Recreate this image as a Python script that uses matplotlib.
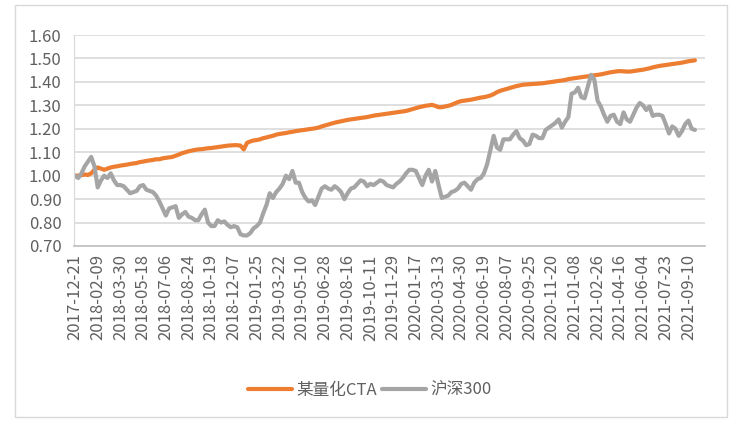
import matplotlib
matplotlib.use('Agg')
import matplotlib.pyplot as plt
from matplotlib.patches import Rectangle

plt.rcParams['font.family'] = ['Noto Sans CJK SC', 'DejaVu Sans']

# tick labels shown on the x axis (every 7th observation)
date_labels = ['2017-12-21', '2018-02-09', '2018-03-30', '2018-05-18', '2018-07-06',
               '2018-08-24', '2018-10-19', '2018-12-07', '2019-01-25', '2019-03-22',
               '2019-05-10', '2019-06-28', '2019-08-16', '2019-10-11', '2019-11-29',
               '2020-01-17', '2020-03-13', '2020-04-30', '2020-06-19', '2020-08-07',
               '2020-09-25', '2020-11-20', '2021-01-08', '2021-02-26', '2021-04-16',
               '2021-06-04', '2021-07-23', '2021-09-10']

# 某量化CTA net value, weekly
cta = [1.000, 1.000, 1.002, 1.005, 1.003, 1.010, 1.025, 1.035, 1.030, 1.025,
       1.030, 1.035, 1.038, 1.040, 1.043, 1.045, 1.047, 1.050, 1.052, 1.054,
       1.058, 1.060, 1.063, 1.065, 1.067, 1.070, 1.070, 1.074, 1.076, 1.078,
       1.080, 1.085, 1.090, 1.096, 1.100, 1.104, 1.107, 1.110, 1.112, 1.113,
       1.115, 1.117, 1.118, 1.120, 1.122, 1.124, 1.126, 1.128, 1.129, 1.130,
       1.130, 1.128, 1.112, 1.140, 1.146, 1.150, 1.152, 1.155, 1.160, 1.163,
       1.167, 1.170, 1.175, 1.178, 1.180, 1.182, 1.185, 1.187, 1.190, 1.192,
       1.194, 1.196, 1.198, 1.200, 1.202, 1.205, 1.210, 1.214, 1.218, 1.222,
       1.226, 1.229, 1.232, 1.235, 1.238, 1.240, 1.242, 1.244, 1.246, 1.248,
       1.250, 1.253, 1.256, 1.258, 1.260, 1.262, 1.264, 1.266, 1.268, 1.270,
       1.272, 1.274, 1.276, 1.280, 1.284, 1.288, 1.292, 1.295, 1.298, 1.300,
       1.302, 1.298, 1.292, 1.292, 1.295, 1.298, 1.302, 1.308, 1.314, 1.318,
       1.320, 1.322, 1.324, 1.327, 1.330, 1.333, 1.335, 1.338, 1.342, 1.348,
       1.356, 1.362, 1.366, 1.370, 1.374, 1.378, 1.382, 1.385, 1.388, 1.389,
       1.390, 1.391, 1.392, 1.393, 1.394, 1.396, 1.398, 1.400, 1.402, 1.404,
       1.406, 1.408, 1.412, 1.414, 1.416, 1.418, 1.420, 1.422, 1.424, 1.426,
       1.428, 1.430, 1.432, 1.435, 1.438, 1.441, 1.443, 1.445, 1.446, 1.445,
       1.444, 1.444, 1.446, 1.448, 1.450, 1.452, 1.455, 1.458, 1.462, 1.465,
       1.468, 1.470, 1.472, 1.474, 1.476, 1.478, 1.480, 1.482, 1.485, 1.488,
       1.490, 1.492]

# 沪深300 normalised
hs300 = [1.000, 0.990, 1.010, 1.040, 1.060, 1.080, 1.040, 0.950, 0.980, 1.000,
         0.990, 1.010, 0.980, 0.960, 0.960, 0.955, 0.940, 0.925, 0.930, 0.935,
         0.955, 0.960, 0.940, 0.935, 0.930, 0.915, 0.890, 0.860, 0.830, 0.860,
         0.865, 0.870, 0.820, 0.835, 0.845, 0.825, 0.820, 0.810, 0.810, 0.835,
         0.855, 0.800, 0.785, 0.785, 0.810, 0.800, 0.805, 0.790, 0.780, 0.785,
         0.780, 0.750, 0.745, 0.745, 0.755, 0.775, 0.785, 0.800, 0.840, 0.875,
         0.925, 0.905, 0.930, 0.945, 0.965, 1.000, 0.985, 1.020, 0.970, 0.970,
         0.930, 0.905, 0.890, 0.895, 0.875, 0.910, 0.945, 0.955, 0.945, 0.940,
         0.955, 0.945, 0.930, 0.900, 0.925, 0.945, 0.950, 0.965, 0.980, 0.975,
         0.955, 0.965, 0.960, 0.970, 0.980, 0.975, 0.960, 0.955, 0.950, 0.965,
         0.975, 0.990, 1.010, 1.025, 1.025, 1.020, 0.990, 0.960, 1.000, 1.025,
         0.975, 1.020, 0.960, 0.905, 0.910, 0.915, 0.930, 0.935, 0.945, 0.965,
         0.970, 0.955, 0.940, 0.970, 0.985, 0.990, 1.010, 1.050, 1.110, 1.170,
         1.120, 1.110, 1.155, 1.155, 1.155, 1.175, 1.190, 1.160, 1.150, 1.130,
         1.135, 1.175, 1.170, 1.160, 1.160, 1.195, 1.205, 1.215, 1.225, 1.240,
         1.205, 1.230, 1.250, 1.350, 1.355, 1.375, 1.335, 1.330, 1.380, 1.430,
         1.410, 1.320, 1.295, 1.260, 1.230, 1.255, 1.260, 1.230, 1.220, 1.270,
         1.240, 1.230, 1.260, 1.290, 1.310, 1.300, 1.280, 1.295, 1.255, 1.260,
         1.260, 1.255, 1.220, 1.180, 1.210, 1.200, 1.170, 1.190, 1.220, 1.235,
         1.200, 1.195]

W, H = 743, 425
fig = plt.figure(figsize=(W / 100, H / 100), dpi=100)

# outer chart border
fig.patches.append(Rectangle((15 / W, 1 - 417 / H), (727 - 15) / W, (417 - 5) / H,
                             transform=fig.transFigure, fill=False,
                             edgecolor='#d9d9d9', linewidth=1))

ax = fig.add_axes([74 / W, 1 - 246 / H, (705 - 74) / W, (246 - 35) / H])

x = list(range(len(cta)))
ax.plot(x, cta, color='#ED7D31', linewidth=3, label='某量化CTA', solid_capstyle='round')
ax.plot(x, hs300, color='#A5A5A5', linewidth=3, label='沪深300', solid_capstyle='round')

ax.set_ylim(0.70, 1.60)
ax.set_yticks([0.70 + 0.1 * k for k in range(10)])
ax.yaxis.set_major_formatter(plt.FuncFormatter(lambda v, p: f'{v:.2f}'))
ax.set_xlim(-0.3, 194.1)
ax.set_xticks(list(range(0, 7 * len(date_labels), 7)))
ax.set_xticklabels(date_labels, rotation=90)

ax.grid(axis='y', color='#d9d9d9', linewidth=1.2)
ax.set_axisbelow(True)
for s in ['top', 'right']:
    ax.spines[s].set_visible(False)
ax.spines['left'].set_color('#d9d9d9')
ax.spines['bottom'].set_color('#bfbfbf')
ax.spines['bottom'].set_linewidth(1.2)
ax.tick_params(axis='both', length=0, labelsize=12, labelcolor='#606060')
ax.tick_params(axis='y', pad=9)
ax.tick_params(axis='x', pad=6)

fig.legend(loc='center', bbox_to_anchor=(370 / W, 1 - 390 / H), ncol=2, frameon=False,
           fontsize=12, labelcolor='#606060', handlelength=2.6, handletextpad=0.3,
           columnspacing=0.3)

plt.savefig('out.png', dpi=100)
